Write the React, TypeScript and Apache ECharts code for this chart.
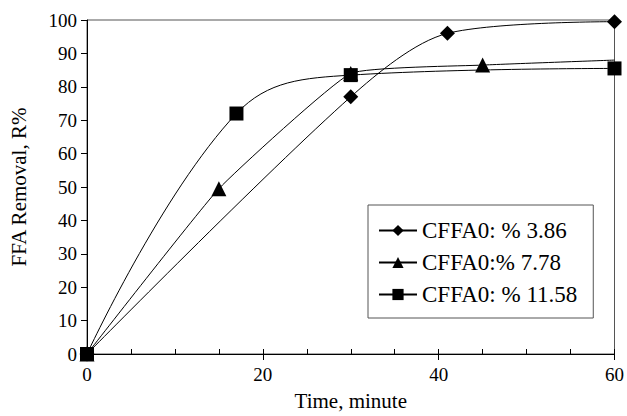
import React, { useEffect, useRef } from "react";
import * as echarts from "echarts";

const seriesNames = ["CFFA0: % 3.86", "CFFA0:% 7.78", "CFFA0: % 11.58"];
const s1: [number, number][] = [[0, 0], [30, 77], [41, 96], [60, 99.5]];
const s2: [number, number][] = [[0, 0], [15, 49.5], [30, 84], [45, 86.5], [60, 88]];
const s3: [number, number][] = [[0, 0], [17, 72], [30, 83.5], [60, 85.5]];
const symbols = ["diamond", "triangle", "rect"];
const symbolSizes = [15, 15, 14];
const smoothness = [0.3, 0.12, 0.4];
const hiddenMarker = [[], [4], []] as number[][];

const FONT = "'Liberation Serif', 'Times New Roman', serif";

export default function App() {
  const ref = useRef<HTMLDivElement>(null);
  useEffect(() => {
    const chart = echarts.init(ref.current!, undefined, { renderer: "svg" });
    const data = [s1, s2, s3];
    chart.setOption({
      animation: false,
      backgroundColor: "#fff",
      textStyle: { fontFamily: FONT },
      grid: { left: 86, right: 10, top: 20, bottom: 59, show: true, borderColor: "#555", borderWidth: 1 },
      legend: {
        orient: "vertical",
        left: 368,
        top: 205,
        padding: [14, 16, 12, 10],
        itemGap: 9,
        itemWidth: 38,
        itemHeight: 14,
        backgroundColor: "#fff",
        borderColor: "#555",
        borderWidth: 1,
        borderRadius: 0,
        textStyle: { fontFamily: FONT, fontSize: 23, color: "#000" },
        data: seriesNames,
      },
      xAxis: [
        {
          type: "value",
          min: 0,
          max: 60,
          interval: 5,
          name: "Time, minute",
          nameLocation: "middle",
          nameGap: 36,
          nameTextStyle: { fontFamily: FONT, fontSize: 21, color: "#000" },
          axisLine: { lineStyle: { color: "#000", width: 1 } },
          axisTick: { inside: true, length: 5, lineStyle: { color: "#000" } },
          axisLabel: {
            fontFamily: FONT,
            fontSize: 19,
            color: "#000",
            margin: 11,
            formatter: (v: number) => (v % 20 === 0 ? String(v) : ""),
          },
          splitLine: { show: false },
        },
        {
          type: "value",
          position: "bottom",
          min: 0,
          max: 60,
          interval: 20,
          axisLine: { show: false },
          axisTick: { inside: false, length: 6, lineStyle: { color: "#000" } },
          axisLabel: { show: false },
          splitLine: { show: false },
        },
      ],
      yAxis: {
        type: "value",
        min: 0,
        max: 100,
        interval: 10,
        name: "FFA Removal, R%",
        nameLocation: "middle",
        nameGap: 58,
        nameTextStyle: { fontFamily: FONT, fontSize: 21, color: "#000" },
        axisLine: { show: true, lineStyle: { color: "#000", width: 1 } },
        axisTick: { show: true, length: 6, lineStyle: { color: "#000" } },
        axisLabel: { fontFamily: FONT, fontSize: 19, color: "#000", margin: 10 },
        splitLine: { show: false },
      },
      series: data.map((d, i) => ({
        name: seriesNames[i],
        type: "line",
        data: d.map((p, j) => (hiddenMarker[i].includes(j) ? { value: p, symbol: "none" } : p)),
        smooth: smoothness[i],
        symbol: symbols[i],
        symbolSize: symbolSizes[i],
        showAllSymbol: true,
        lineStyle: { color: "#000", width: 1 },
        itemStyle: { color: "#000" },
        z: 3 + i,
      })),
    });
    return () => chart.dispose();
  }, []);
  return <div ref={ref} style={{ width: 627, height: 416, position: "absolute", left: 0, top: 0 }} />;
}
